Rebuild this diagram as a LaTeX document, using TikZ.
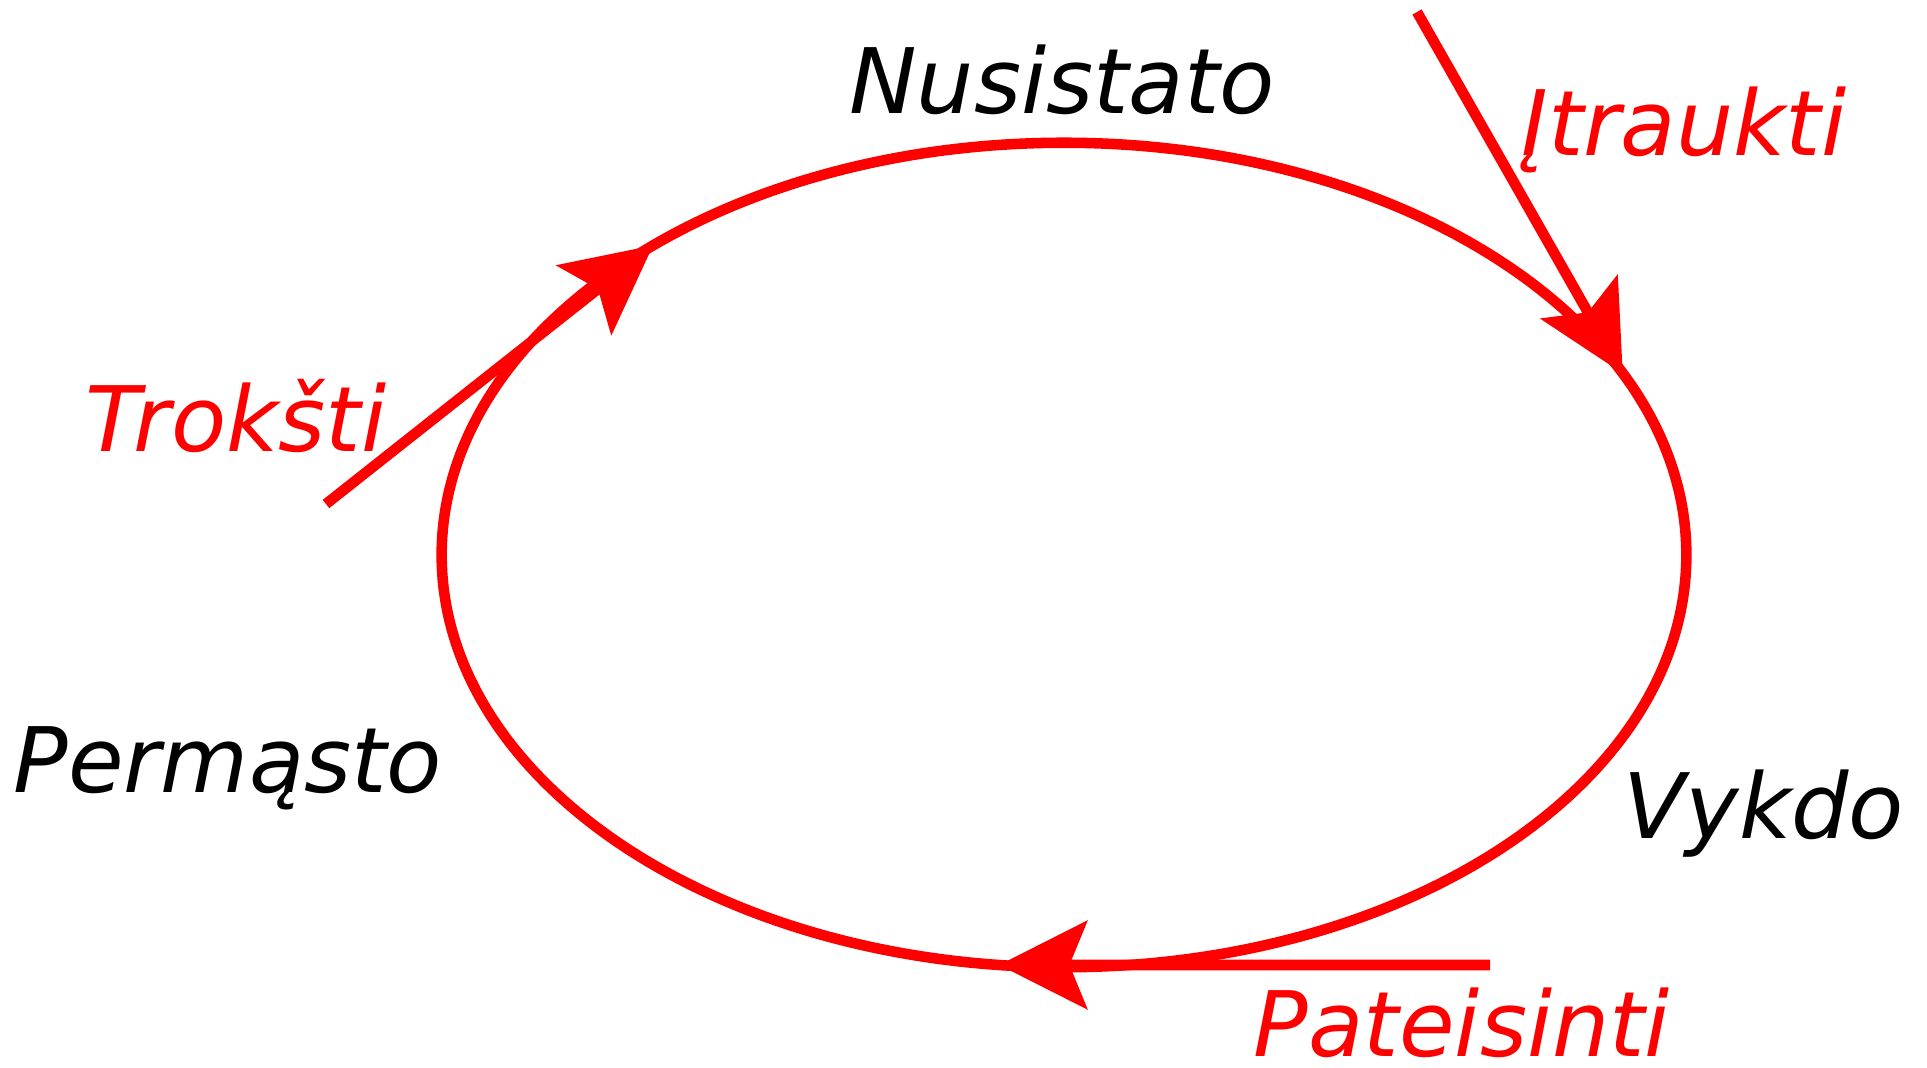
\documentclass[tikz,border=0pt]{standalone}
\usepackage{fontspec}
\setmainfont{DejaVu Sans}
\usetikzlibrary{arrows.meta,shapes.geometric}
\tikzstyle{ciklas} = [draw=red, line width=3pt, ellipse, inner sep=0pt, outer sep=0pt, minimum width=12.44cm, minimum height=8.24cm]
\tikzstyle{rodykle} = [draw=red, line width=3pt, -{Stealth[length=25pt, width=25pt, inset=5pt]}]
\tikzstyle{busena} = [font=\fontsize{25.7pt}{30pt}\selectfont\itshape, text=black, inner sep=0pt, anchor=base]
\tikzstyle{veiksmas} = [busena, text=red]

\begin{document}
\begin{tikzpicture}[x=0.01cm, y=-0.01cm]
	\useasboundingbox (0,0) rectangle (1927,1068);
	\node[ciklas](ratas) at (1064,555) {};
	% busenos
	\node[busena](nusistato) at (1062,114) {Nusistato};
	\node[busena](vykdo) at (1764,839) {Vykdo};
	\node[busena](permasto) at (228,793) {Permąsto};
	% veiksmai
	\node[veiksmas](itraukti) at (1684,156) {Įtraukti};
	\node[veiksmas](troksti) at (236,452) {Trokšti};
	\node[veiksmas](pateisinti) at (1462,1057) {Pateisinti};
	\coordinate (trokstiPradzia) at (326,504);
	\coordinate (itrauktiPradzia) at (1417,12);
	\coordinate (pateisintiPradzia) at (1490,965);
	\draw[rodykle] (trokstiPradzia) -- (ratas.143.9);
	\draw[rodykle] (itrauktiPradzia) -- (ratas.18.3);
	\draw[rodykle] (pateisintiPradzia) -- (ratas.261.5);
\end{tikzpicture}
\end{document}
